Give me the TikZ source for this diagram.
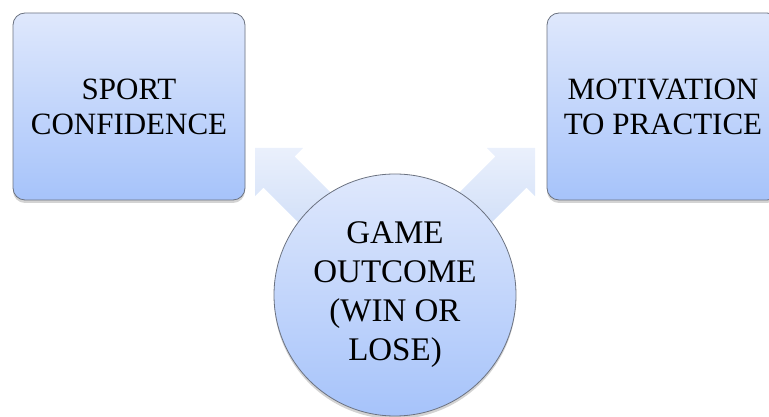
\documentclass[tikz,border=0pt]{standalone}
\usepackage{fontspec}
\setmainfont{Liberation Serif}
\usetikzlibrary{shadows}

\definecolor{boxtop}{HTML}{DFE8FC}
\definecolor{boxbottom}{HTML}{A6C3FA}
\definecolor{boxline}{HTML}{6B7280}
\definecolor{arrowtop}{HTML}{EAF0FC}
\definecolor{arrowbottom}{HTML}{CBDBF7}

\begin{document}
\begin{tikzpicture}[x=1pt,y=1pt,
     box/.style={rectangle, rounded corners=12pt, draw=boxline, line width=0.8pt,
        top color=boxtop, bottom color=boxbottom, minimum width=232pt, minimum height=187pt,
        align=center, font=\fontsize{31}{35}\selectfont,
        drop shadow={shadow xshift=0pt, shadow yshift=-3pt, opacity=0.35}},
     outcome/.style={circle, draw=boxline, line width=0.8pt,
        top color=boxtop, bottom color=boxbottom, minimum size=242pt, inner sep=0pt,
        align=center, font=\fontsize{33}{39}\selectfont,
        drop shadow={shadow xshift=0pt, shadow yshift=-3pt, opacity=0.35}},
     blockarrow/.style={top color=arrowtop, bottom color=arrowbottom, draw=none}]

     \useasboundingbox (0,0) rectangle (769,417);

     % tips of the two block arrows
     \coordinate (tipL) at (255,269);
     \coordinate (tipR) at (535,269);

     \begin{scope}[shift={(tipL)}, rotate=135]
        \shade[blockarrow] (0,0) -- (-34,34) -- (-34,22) -- (-120,22) -- (-120,-22) -- (-34,-22) -- (-34,-34) -- cycle;
     \end{scope}
     \begin{scope}[shift={(tipR)}, rotate=45]
        \shade[blockarrow] (0,0) -- (-34,34) -- (-34,22) -- (-120,22) -- (-120,-22) -- (-34,-22) -- (-34,-34) -- cycle;
     \end{scope}

     \node[box] (confidence) at (129,310.5) {SPORT\\CONFIDENCE};
     \node[box] (motivation) at (663,310.5) {MOTIVATION\\TO PRACTICE};
     \node[outcome] (game) at (395,122) {GAME\\OUTCOME\\(WIN OR\\LOSE)};
\end{tikzpicture}
\end{document}
